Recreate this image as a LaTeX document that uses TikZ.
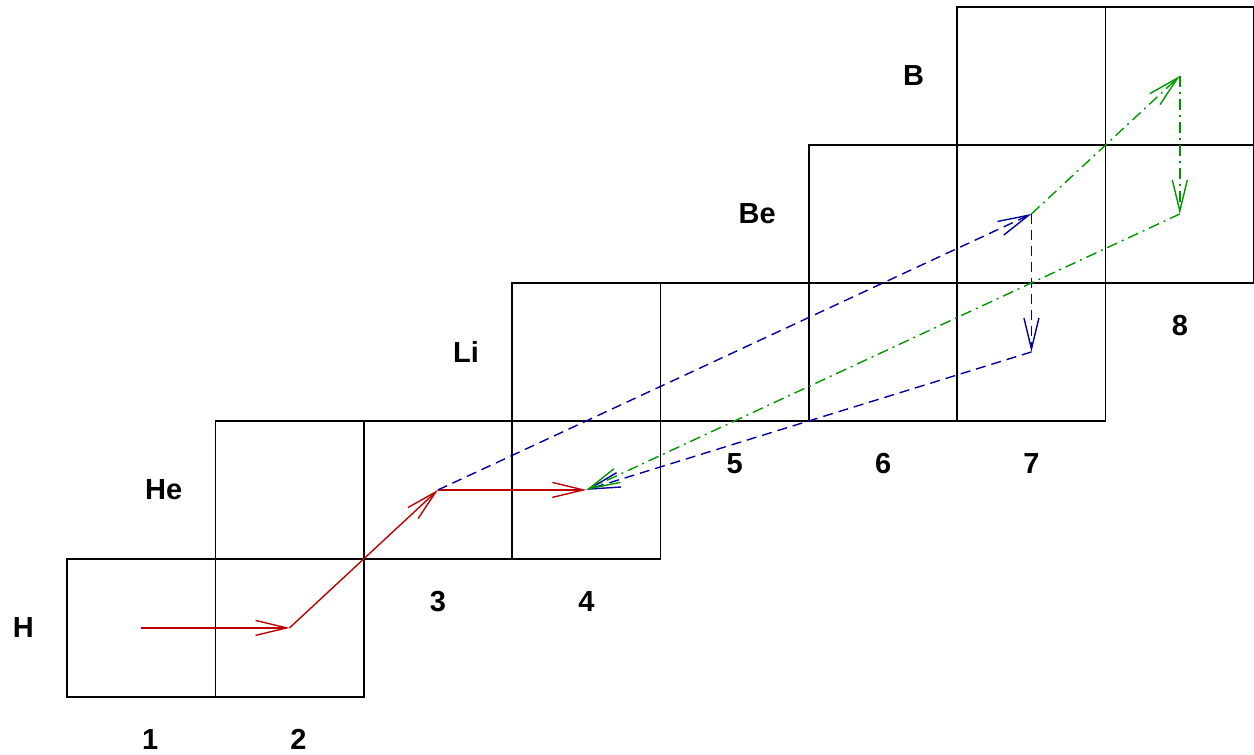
\documentclass[tikz,border=0pt]{standalone}
\usepackage{fontspec}
\setmainfont{Liberation Sans}
\usetikzlibrary{arrows.meta}
\definecolor{myred}{RGB}{190,0,0}
\definecolor{myblue}{RGB}{0,0,160}
\definecolor{mygreen}{RGB}{0,150,0}
\begin{document}
\begin{tikzpicture}[x=148.4pt,y=138pt,
  cell/.style={draw=black,line width=1.6pt},
  lbl/.style={font=\bfseries\fontsize{29}{29}\selectfont,inner sep=0pt},
  rowlbl/.style={lbl,anchor=east},
  arr/.style={line width=1.4pt,-{Straight Barb[length=31pt,width=15pt,line width=1.4pt]}},
  redarr/.style={arr,myred},
  bluearr/.style={arr,myblue,dash pattern=on 10pt off 6pt},
  greenarr/.style={arr,mygreen,dash pattern=on 11pt off 5pt on 2pt off 5pt}]
\useasboundingbox (-0.4515,-0.4203) rectangle (8,5.0507);
\begin{scope}
\clip (-0.4515,-0.4203) rectangle (8,5.0507);
% H row
\foreach \c in {0,1} \draw[cell] (\c,0) rectangle ++(1,1);
% He row
\foreach \c in {1,2,3} \draw[cell] (\c,1) rectangle ++(1,1);
% Li row
\foreach \c in {3,4,5,6} \draw[cell] (\c,2) rectangle ++(1,1);
% Be row
\foreach \c in {5,6,7} \draw[cell] (\c,3) rectangle ++(1,1);
% B row
\foreach \c in {6,7} \draw[cell] (\c,4) rectangle ++(1,1);
\end{scope}
% row labels
\node[rowlbl] (lH)  at (-0.222,0.5) {H};
\node[rowlbl] (lHe) at (0.778,1.5) {He};
\node[rowlbl] (lLi) at (2.778,2.5) {Li};
\node[rowlbl] (lBe) at (4.778,3.5) {Be};
\node[rowlbl] (lB)  at (5.778,4.5) {B};
% column labels
\node[lbl] (n1) at (0.56,-0.31) {1};
\node[lbl] (n2) at (1.56,-0.31) {2};
\node[lbl] (n3) at (2.5,0.69) {3};
\node[lbl] (n4) at (3.5,0.69) {4};
\node[lbl] (n5) at (4.5,1.69) {5};
\node[lbl] (n6) at (5.5,1.69) {6};
\node[lbl] (n7) at (6.5,1.69) {7};
\node[lbl] (n8) at (7.5,2.69) {8};
% points
\coordinate (p1) at (0.5,0.5);
\coordinate (p2) at (1.5,0.5);
\coordinate (p3) at (2.5,1.5);
\coordinate (p4) at (3.5,1.5);
\coordinate (p7a) at (6.5,3.5);
\coordinate (p7b) at (6.5,2.5);
\coordinate (p8a) at (7.5,4.5);
\coordinate (p8b) at (7.5,3.5);
% red
\draw[redarr] (p1) -- (p2);
\draw[redarr] (p2) -- (p3);
\draw[redarr] (p3) -- (p4);
% blue
\draw[bluearr] (p3) -- (p7a);
\draw[bluearr] (p7a) -- (p7b);
\draw[bluearr] (p7b) -- (p4);
% green
\draw[greenarr] (p7a) -- (p8a);
\draw[greenarr] (p8a) -- (p8b);
\draw[greenarr] (p8b) -- (p4);
\end{tikzpicture}
\end{document}
